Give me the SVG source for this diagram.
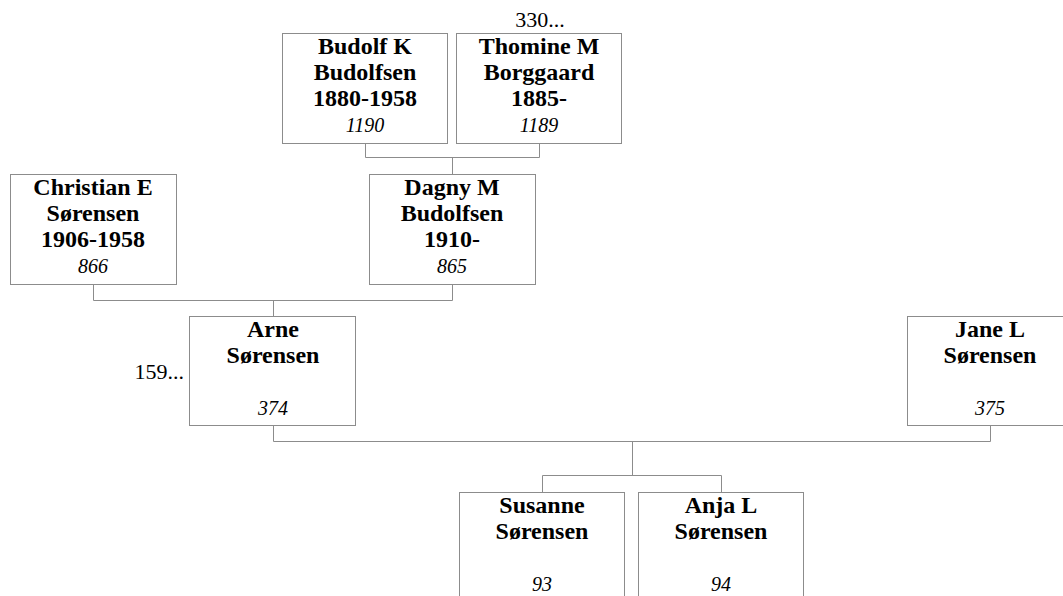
<svg xmlns="http://www.w3.org/2000/svg" width="1063" height="596" viewBox="0 0 1063 596">
<style>
.box{fill:#fff;stroke:#8c8c8c;stroke-width:1}
.n{font-family:"Liberation Serif","Times New Roman",serif;font-weight:bold;font-size:24px;text-anchor:middle;fill:#000}
.id{font-family:"Liberation Serif","Times New Roman",serif;font-style:italic;font-size:20px;text-anchor:middle;fill:#000}
.more{font-family:"Liberation Serif","Times New Roman",serif;font-size:22px;fill:#000}
.c{fill:none;stroke:#8c8c8c;stroke-width:1}
</style>
<rect width="1063" height="596" fill="#fff"/>
<g id="connectors">
<path class="c" d="M365.5 143 V157.5 H539.5 V143 M452.5 157.5 V174"/>
<path class="c" d="M93.5 284 V300.5 H452.5 V284 M273.5 300.5 V316"/>
<path class="c" d="M273.5 425 V441.5 H990.5 V425 M632.5 441.5 V475.5 M542.5 492 V475.5 H721.5 V492"/>
</g>
<g id="budolf">
<rect class="box" x="282.5" y="33.5" width="165" height="110"/>
<text class="n" x="365" y="54">Budolf K</text>
<text class="n" x="365" y="80">Budolfsen</text>
<text class="n" x="365" y="106">1880-1958</text>
<text class="id" x="365" y="132">1190</text>
</g>
<g id="thomine">
<text class="more" x="540" y="27" text-anchor="middle">330...</text>
<rect class="box" x="456.5" y="33.5" width="165" height="110"/>
<text class="n" x="539" y="54">Thomine M</text>
<text class="n" x="539" y="80">Borggaard</text>
<text class="n" x="539" y="106">1885-</text>
<text class="id" x="539" y="132">1189</text>
</g>
<g id="christian">
<rect class="box" x="10.5" y="174.5" width="166" height="110"/>
<text class="n" x="93" y="195">Christian E</text>
<text class="n" x="93" y="221">Sørensen</text>
<text class="n" x="93" y="247">1906-1958</text>
<text class="id" x="93" y="273">866</text>
</g>
<g id="dagny">
<rect class="box" x="369.5" y="174.5" width="166" height="110"/>
<text class="n" x="452" y="195">Dagny M</text>
<text class="n" x="452" y="221">Budolfsen</text>
<text class="n" x="452" y="247">1910-</text>
<text class="id" x="452" y="273">865</text>
</g>
<g id="arne">
<text class="more" x="184" y="379" text-anchor="end">159...</text>
<rect class="box" x="189.5" y="316.5" width="166" height="109"/>
<text class="n" x="273" y="337">Arne</text>
<text class="n" x="273" y="363">Sørensen</text>
<text class="id" x="273" y="415">374</text>
</g>
<g id="jane">
<rect class="box" x="907.5" y="316.5" width="166" height="109"/>
<text class="n" x="990" y="337">Jane L</text>
<text class="n" x="990" y="363">Sørensen</text>
<text class="id" x="990" y="415">375</text>
</g>
<g id="susanne">
<rect class="box" x="459.5" y="492.5" width="165" height="120"/>
<text class="n" x="542" y="513">Susanne</text>
<text class="n" x="542" y="539">Sørensen</text>
<text class="id" x="542" y="591">93</text>
</g>
<g id="anja">
<rect class="box" x="638.5" y="492.5" width="165" height="120"/>
<text class="n" x="721" y="513">Anja L</text>
<text class="n" x="721" y="539">Sørensen</text>
<text class="id" x="721" y="591">94</text>
</g>
</svg>
